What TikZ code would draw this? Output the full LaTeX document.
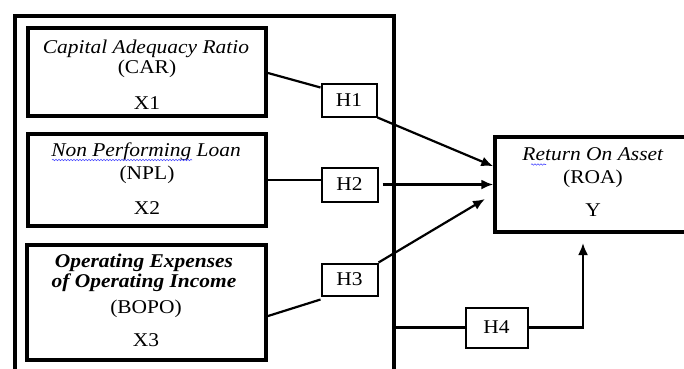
\documentclass[tikz,border=0pt]{standalone}
\usepackage{fontspec}
\setmainfont{Liberation Serif}[FakeStretch=1.1]
\usetikzlibrary{arrows.meta,decorations.pathmorphing,calc}
\begin{document}
\begin{tikzpicture}[x=1pt,y=-1pt,
  outerbox/.style={draw,line width=4pt,rectangle,inner sep=0pt},
  xbox/.style={draw,line width=4pt,rectangle,inner sep=0pt},
  hbox/.style={draw,line width=2pt,rectangle,inner sep=0pt,font=\fontsize{19.5}{24}\selectfont},
  ybox/.style={draw,line width=3.5pt,rectangle,inner sep=0pt},
  txt/.style={inner sep=0pt,anchor=base,font=\fontsize{19.5}{24}\selectfont},
  conn/.style={line width=2.2pt},
  arr/.style={conn,-{Latex[length=12pt,width=10pt]}},
  wavy/.style={decorate,decoration={snake,amplitude=0.7pt,segment length=3pt},draw=blue!70,line width=0.6pt}
]
\useasboundingbox (0,0) rectangle (684,368);
\clip (0,0) rectangle (684,368);
% outer frame
\node[outerbox,minimum width=379pt,minimum height=380pt] (outer) at (204,205.5) {};
% independent variable boxes
\node[xbox,minimum width=238pt,minimum height=88pt] (x1) at (147,71.5) {};
\node[xbox,minimum width=238pt,minimum height=92pt] (x2) at (147,180) {};
\node[xbox,minimum width=239pt,minimum height=115pt] (x3) at (146.5,302) {};
% hypothesis boxes
\node[hbox,minimum width=55pt,minimum height=33pt] (h1) at (349,100) {H1};
\node[hbox,minimum width=56pt,minimum height=34pt] (h2) at (349.5,184.5) {H2};
\node[hbox,minimum width=56pt,minimum height=32pt] (h3) at (349.5,279.5) {H3};
\node[hbox,minimum width=62pt,minimum height=40pt] (h4) at (496.5,327.5) {H4};
% dependent box
\node[ybox,minimum width=200pt,minimum height=95pt] (roa) at (595,184.5) {};
% texts
\node[txt] (t1a) at (146,53) {\textit{Capital Adequacy Ratio}};
\node[txt] (t1b) at (147,73) {(CAR)};
\node[txt] (t1c) at (147,109) {X1};
\node[txt] (t2a) at (146,156) {\textit{Non Performing Loan}};
\node[txt] (t2b) at (147,179) {(NPL)};
\node[txt] (t2c) at (147,214) {X2};
\node[txt] (t3a) at (144,267) {\textbf{\textit{Operating Expenses}}};
\node[txt] (t3b) at (144,287) {\textbf{\textit{of Operating Income}}};
\node[txt] (t3c) at (146,313) {(BOPO)};
\node[txt] (t3d) at (146,346) {X3};
\node[txt] (tya) at (593,160) {\textit{Return On Asset}};
\node[txt] (tyb) at (593,183) {(ROA)};
\node[txt] (tyc) at (593,216) {Y};
% spell-check underlines
\draw[wavy] (52,160) -- (192,160);
\draw[wavy] (531,164.5) -- (546,164.5);
% connectors
\coordinate (a3) at (485,199);
\coordinate (a4) at (583,243);
\draw[conn] ([yshift=-1.5pt]x1.east) -- ([yshift=-5pt]h1.north west);
\draw[arr] (h1.south east) -- ([yshift=-31pt]roa.north west);
\draw[conn] (x2.east) -- (x2.east -| h2.west);
\draw[arr] ([xshift=4pt]h2.east) -- (h2.east -| roa.west);
\draw[conn] ([yshift=-14pt]x3.east) -- ([yshift=-3pt]h3.south west);
\draw[arr] (h3.north east) -- (a3);
\draw[conn] (h4.west -| outer.east) -- (h4.west);
\draw[arr] (h4.east) -| (a4);
\end{tikzpicture}
\end{document}
